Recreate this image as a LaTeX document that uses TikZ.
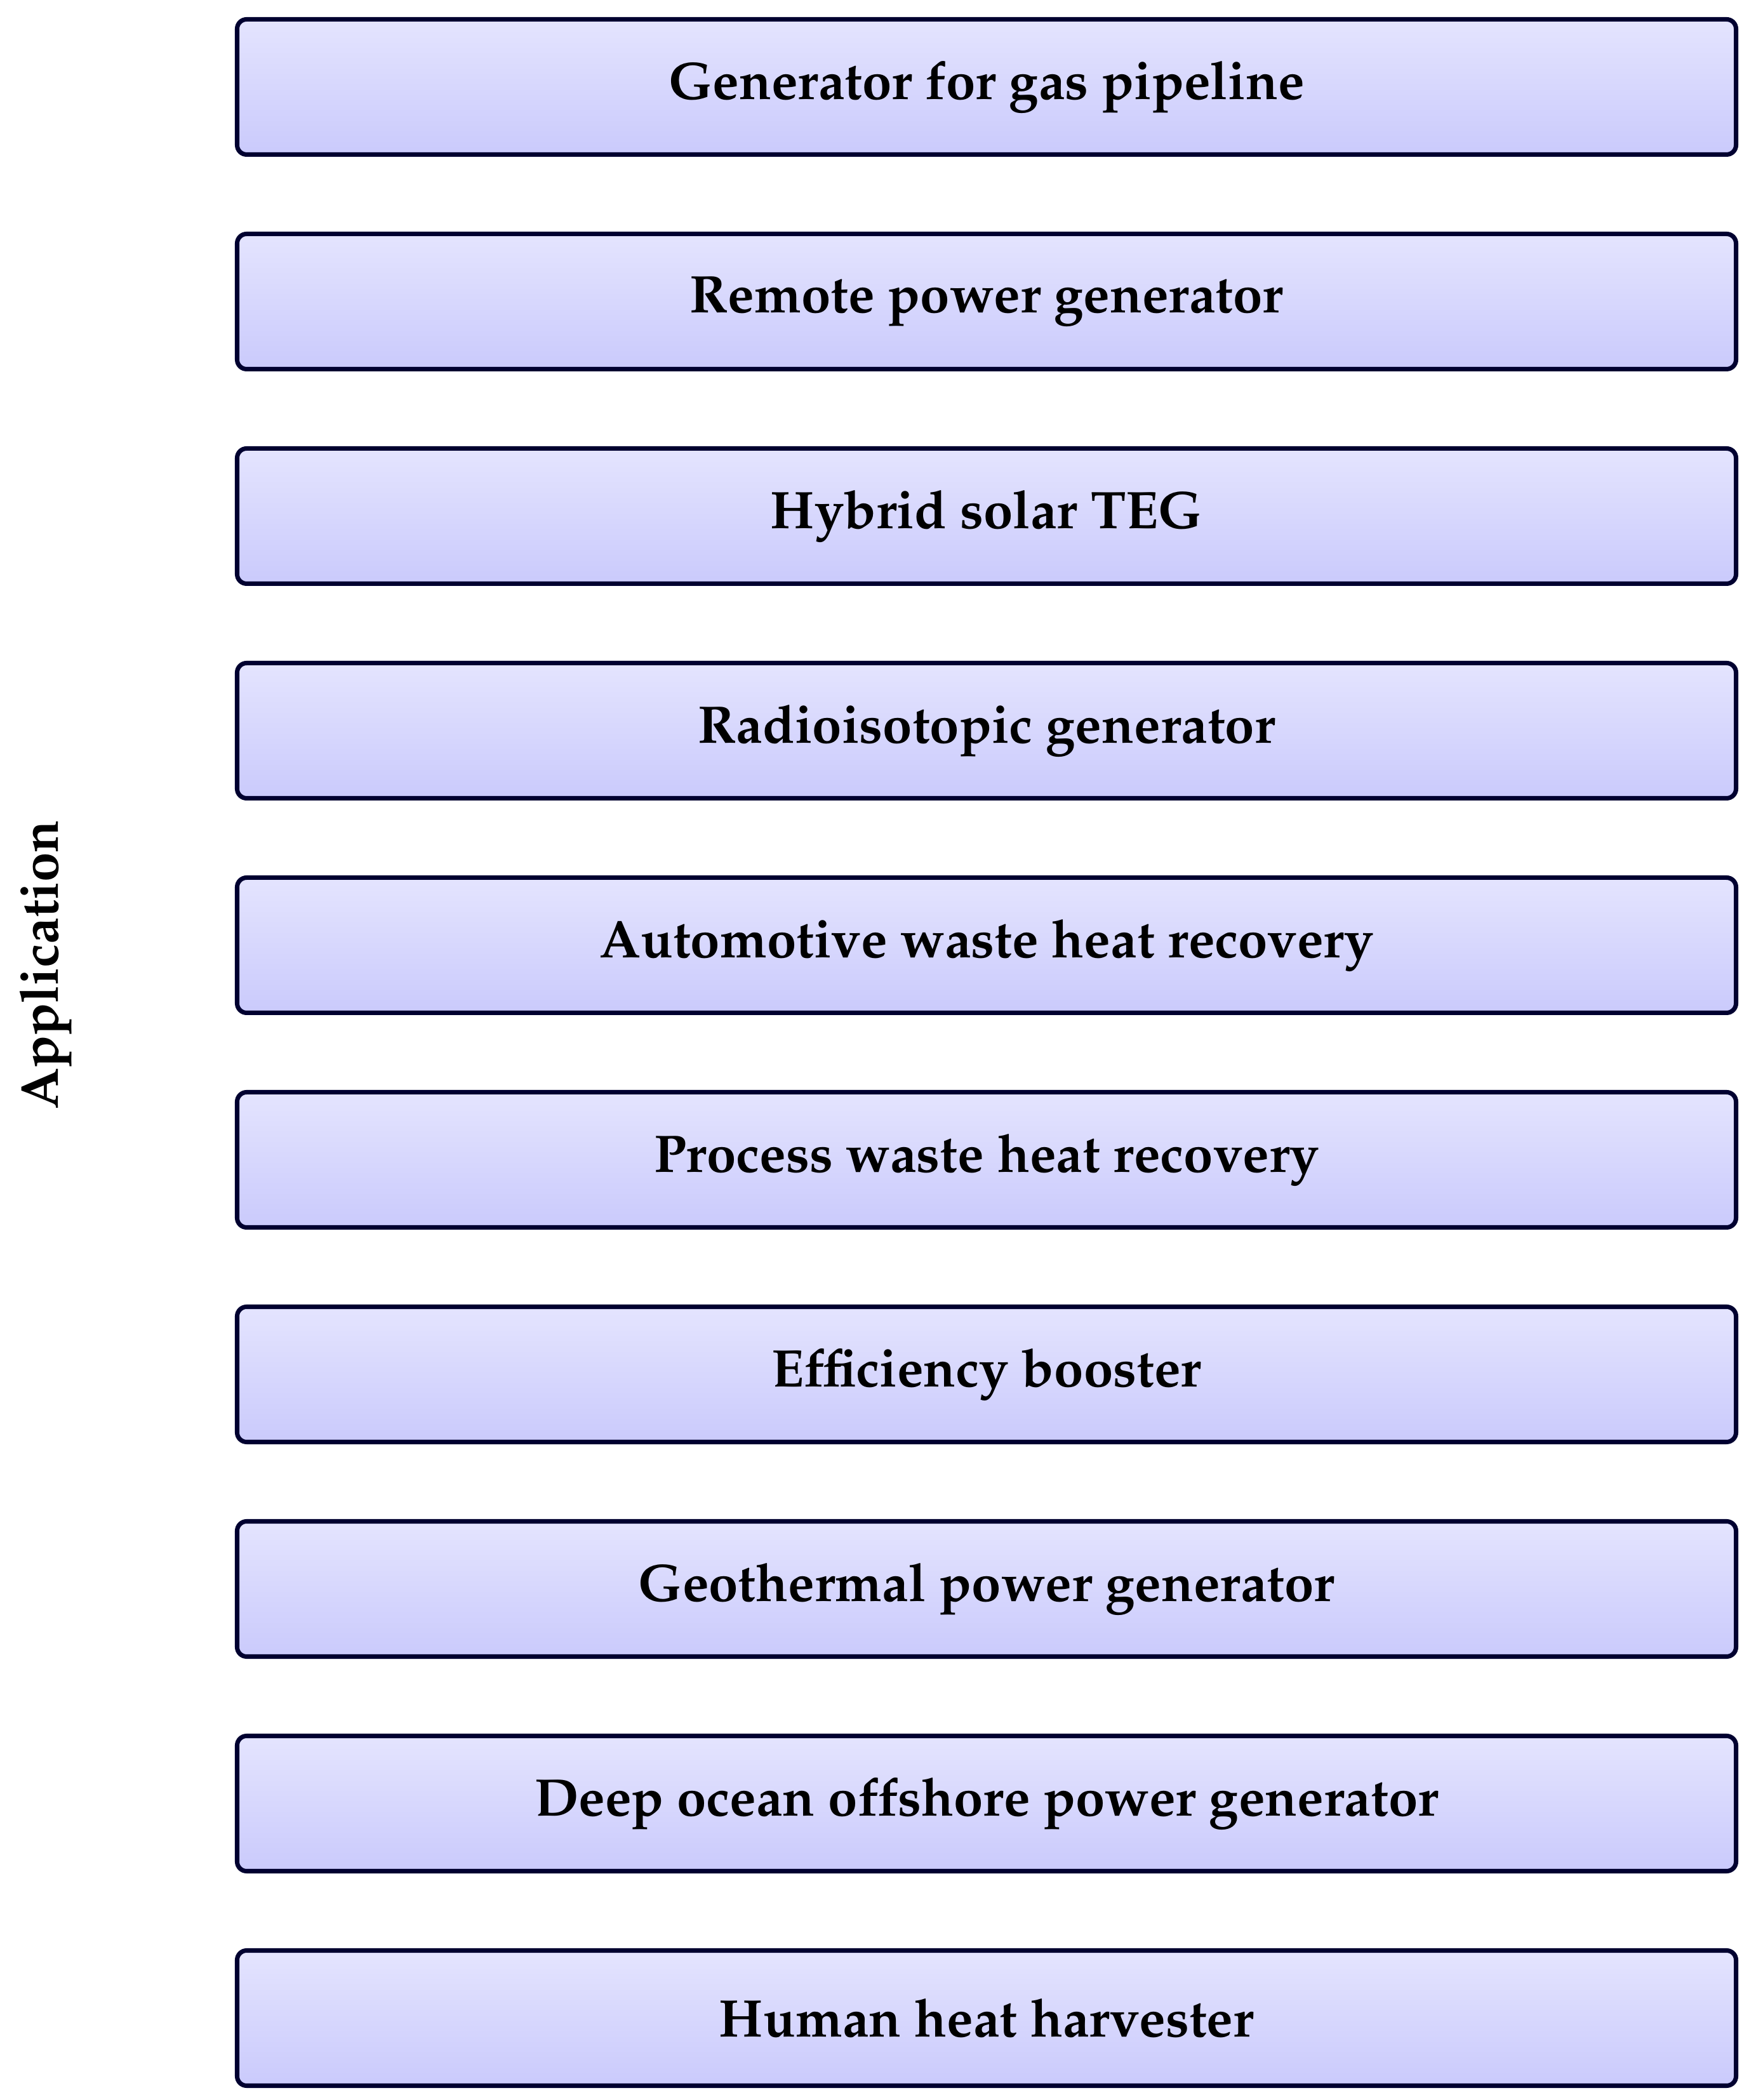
\documentclass[tikz,border=0pt]{standalone}
\IfFileExists{mathpazo.sty}{\usepackage[T1]{fontenc}\usepackage{mathpazo}}{%
  \IfFileExists{palatino.sty}{\usepackage[T1]{fontenc}\usepackage{palatino}}{%
    \usepackage{fontspec}\setmainfont{Liberation Serif}}}
\begin{document}
\begin{tikzpicture}[x=1cm,y=1cm,
  appbox/.style={draw=navyline, line width=2pt, rounded corners=0.15cm,
    top color=boxtop, bottom color=boxbot, minimum width=23.61cm, minimum height=2.13cm,
    font=\fontsize{23.7}{28}\selectfont\bfseries, inner sep=0pt},
  sidelabel/.style={font=\fontsize{23.8}{28}\selectfont\bfseries, rotate=90, inner sep=0pt}]
\definecolor{navyline}{RGB}{0,0,48}
\definecolor{boxtop}{RGB}{228,228,254}
\definecolor{boxbot}{RGB}{202,202,252}
\useasboundingbox (0,0) rectangle (27.76,33.08);
\foreach \t [count=\i from 0] in {Generator for gas pipeline,Remote power generator,Hybrid solar TEG,Radioisotopic generator,Automotive waste heat recovery,Process waste heat recovery,Efficiency booster,Geothermal power generator,Deep ocean offshore power generator,Human heat harvester}{
  \node[appbox] (b\i) at (15.54,{31.71-3.38*\i}) {\t};
}
\node[sidelabel] (app) at (0.72,17.88) {Application};
\end{tikzpicture}
\end{document}
